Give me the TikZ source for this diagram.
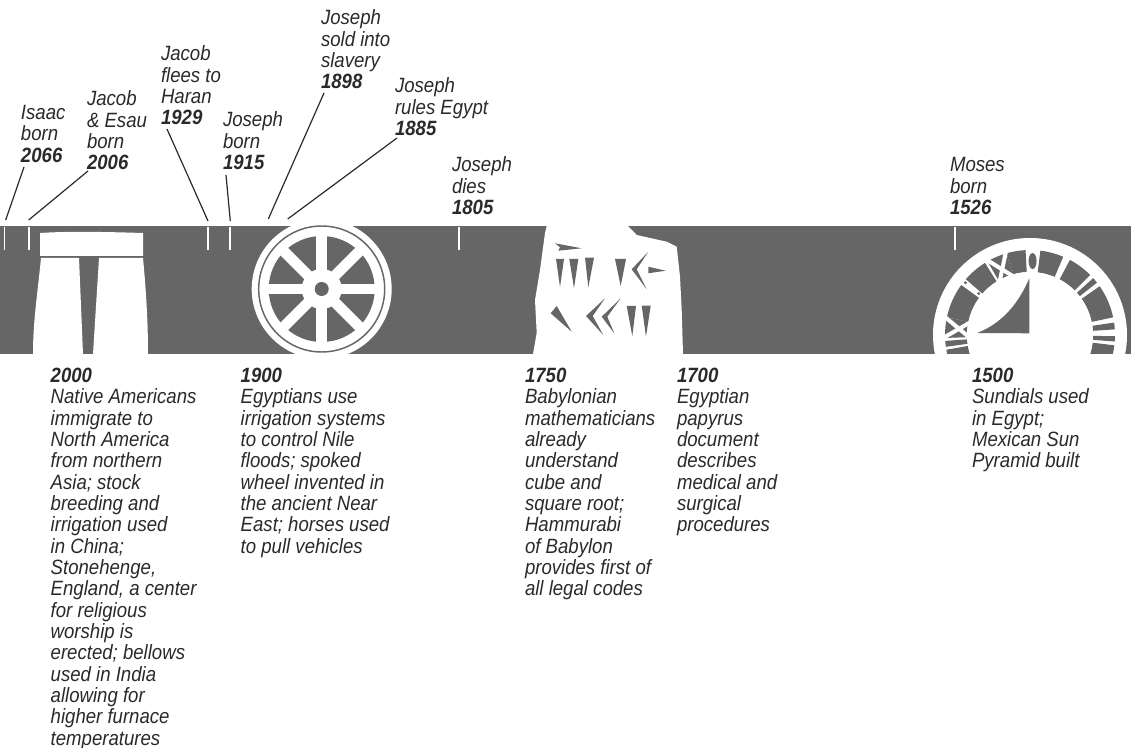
\documentclass[tikz,border=0pt]{standalone}
\usepackage{fontspec}
\setmainfont{Liberation Sans}[ItalicFeatures={FakeStretch=0.9},BoldItalicFeatures={FakeStretch=0.9}]
\definecolor{band}{HTML}{666666}
\definecolor{ink}{HTML}{2A2A2A}
\tikzset{
 txt/.style={anchor=north west,inner sep=0pt,outer sep=0pt,align=left,font=\fontsize{15.5}{16}\selectfont\itshape,text=ink},
 tick/.style={white,line width=1.3pt},
 lead/.style={ink,line width=0.9pt},
 art/.style={fill=white,draw=none},
 hole/.style={fill=band,draw=none}
}
\newcommand{\yr}[1]{{\bfseries #1}}
\newcommand{\fl}{\rule{0pt}{12pt}}
\newcommand{\sect}[2]{\fill[band] (#1:85) arc[start angle=#1,end angle=#2,radius=85] -- (#2:63) arc[start angle=#2,end angle=#1,radius=63] -- cycle;}
\begin{document}
\begin{tikzpicture}[x=0.75pt,y=-0.75pt]
\useasboundingbox (0,0) rectangle (1131,748);
\fill[band] (0,226) rectangle (1131,354);
\begin{scope}
\clip (0,226) rectangle (1131,354);
% Stonehenge
\fill[art] (40,233) .. controls (70,231) and (110,232) .. (143,233) -- (143,256) -- (40,256) -- cycle;
\fill[art] (41,258) -- (79,258) -- (83,354) -- (33,354) .. controls (33,320) and (38,290) .. (41,258) -- cycle;
\fill[art] (99,258) -- (143,258) .. controls (146,290) and (148,320) .. (148,354) -- (93,354) -- cycle;
% Wheel
\fill[art] (321.7,289) circle[radius=70];
\draw[band,line width=1.1pt] (321.7,289) circle[radius=63];
\fill[band] (321.7,289) circle[radius=53];
\foreach \a in {0,45,90,135}{
  \draw[white,line width=8pt] (321.7,289) ++(\a:56) -- ++(\a+180:112);
}
\fill[art] (321.7,289) circle[radius=20];
\fill[band] (321.7,289) circle[radius=7];
% Tablet
\fill[art] (546.7,226) -- (628,226) -- (636.7,235) -- (666.7,241.7) -- (676.7,246.7) -- (680,276.7) -- (681.7,310) -- (683,354) -- (533,354) -- (536.7,333) -- (535,300) -- (540,270) -- (545,233) -- cycle;
\fill[band] (581.7,248.3) -- (555,243.3) -- (560,247.3) -- (558.3,250.7) -- cycle;
\fill[band] (556,259) -- (564,259) -- (560,287) -- cycle;
\fill[band] (569.3,259) -- (578.3,259) -- (574,288.3) -- cycle;
\fill[band] (585,257.7) -- (594,257.7) -- (588.3,287.3) -- cycle;
\fill[band] (615,259) -- (626,259) -- (620.7,286) -- cycle;
\fill[band] (631.7,269.3) -- (648.3,251.7) -- (636.7,269.3) -- (646.7,289.3) -- cycle;
\fill[band] (648.3,266.7) -- (665.7,270.7) -- (648.3,273.3) -- cycle;
\fill[band] (550.7,313.3) -- (556.7,306) -- (571.7,331.7) -- cycle;
\fill[band] (586,316) -- (605,298.3) -- (592.7,316) -- (603.3,335) -- cycle;
\fill[band] (601.7,316.7) -- (620.7,298.3) -- (607.3,316.7) -- (614.3,333.3) -- cycle;
\fill[band] (626.7,306) -- (636,306) -- (632.3,336) -- cycle;
\fill[band] (641.7,305.7) -- (650.7,305.7) -- (646,336.7) -- cycle;
% Sundial
\fill[art] (1030,335) circle[radius=97];
\begin{scope}[shift={(1030,335)},y=0.75pt]
\sect{-20}{-7}\sect{-4.4}{-0.8}\sect{3.8}{8.4}\sect{12}{35}\sect{38}{42}\sect{45}{62}\sect{67}{83}
\sect{93}{106}\sect{106}{120}\sect{122}{139}\sect{144}{168}\sect{168}{182}\sect{184}{188}\sect{190}{205}
\fill[art] (0,0) circle[radius=63];
\fill[band] (88:74) ellipse[x radius=4,y radius=8];
\draw[white,line width=3pt] (106:87) -- (120:61);
\draw[white,line width=3pt] (120:87) -- (106:61);
\draw[white,line width=3pt] (168:87) -- (182:61);
\draw[white,line width=3pt] (182:87) -- (168:61);
\fill[band] (141:83) circle[radius=1.6];
\fill[band] (141:66) circle[radius=1.6];
\end{scope}
\fill[band] (1029.3,278.3) -- (1029.3,333.3) -- (977.3,333) .. controls (1005,322) and (1020,300) .. cycle;
\end{scope}
% ticks
\foreach \n/\x in {a/4.5,b/28.7,c/207.7,d/230.3,e/459,f/955}{
  \draw[tick] (\x,227) -- (\x,250);
}
% upper labels
\node[txt] (isaac) at (21,103.5) {\fl Isaac\\born\\\yr{2066}};
\node[txt] (esau) at (87,89.7) {\fl Jacob\\\& Esau\\born\\\yr{2006}};
\node[txt] (flees) at (161,44.7) {\fl Jacob\\flees to\\Haran\\\yr{1929}};
\node[txt] (jborn) at (223,111) {\fl Joseph\\born\\\yr{1915}};
\node[txt] (sold) at (321,9) {\fl Joseph\\sold into\\slavery\\\yr{1898}};
\node[txt] (rules) at (395,76.7) {\fl Joseph\\rules Egypt\\\yr{1885}};
\node[txt] (dies) at (452,155.7) {\fl Joseph\\dies\\\yr{1805}};
\node[txt] (moses) at (950,155.7) {\fl Moses\\born\\\yr{1526}};
% lower labels
\node[txt] (t2000) at (50.7,366.5) {\fl\yr{2000}\\Native Americans\\immigrate to\\North America\\from northern\\Asia; stock\\breeding and\\irrigation used\\in China;\\Stonehenge,\\England, a center\\for religious\\worship is\\erected; bellows\\used in India\\allowing for\\higher furnace\\temperatures};
\node[txt] (t1900) at (240.7,366.5) {\fl\yr{1900}\\Egyptians use\\irrigation systems\\to control Nile\\floods; spoked\\wheel invented in\\the ancient Near\\East; horses used\\to pull vehicles};
\node[txt] (t1750) at (525,366.5) {\fl\yr{1750}\\Babylonian\\mathematicians\\already\\understand\\cube and\\square root;\\Hammurabi\\of Babylon\\provides first of\\all legal codes};
\node[txt] (t1700) at (677,366.5) {\fl\yr{1700}\\Egyptian\\papyrus\\document\\describes\\medical and\\surgical\\procedures};
\node[txt] (t1500) at (972,366.5) {\fl\yr{1500}\\Sundials used\\in Egypt;\\Mexican Sun\\Pyramid built};
% leaders
\coordinate (la) at (5.7,220); \coordinate (lb) at (28.7,220); \coordinate (lc) at (208,221);
\coordinate (ld) at (230.3,221); \coordinate (le) at (268.3,219); \coordinate (lf) at (287.7,219);
\coordinate (sa) at (24,167); \coordinate (sb) at (88,171); \coordinate (sc) at (167,129);
\coordinate (sd) at (226,175); \coordinate (se) at (324,93); \coordinate (sf) at (397,138);
\draw[lead] (sa) -- (la);
\draw[lead] (sb) -- (lb);
\draw[lead] (sc) -- (lc);
\draw[lead] (sd) -- (ld);
\draw[lead] (se) -- (le);
\draw[lead] (sf) -- (lf);
\end{tikzpicture}
\end{document}
